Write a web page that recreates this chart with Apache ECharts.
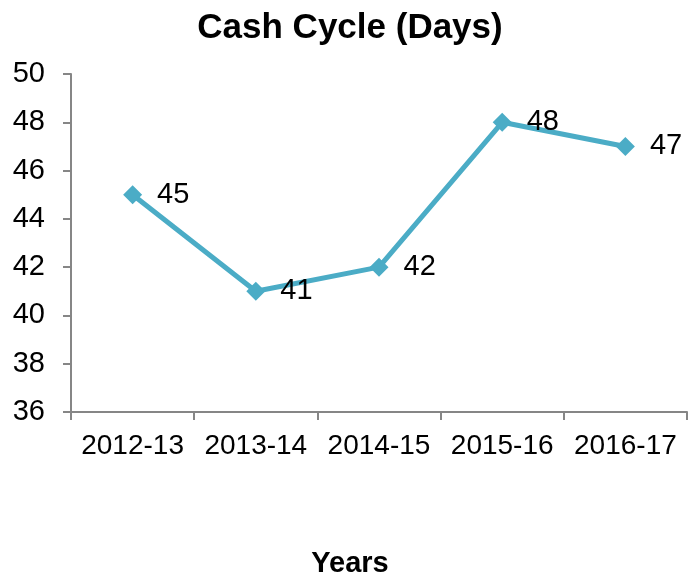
<!DOCTYPE html>
<html>
<head>
<meta charset="utf-8">
<script src="https://cdn.jsdelivr.net/npm/echarts@6/dist/echarts.min.js"></script>
<style>
  html, body { margin: 0; padding: 0; background: #fff; }
  #chart { width: 689px; height: 577px; }
</style>
</head>
<body>
<div id="chart"></div>
<script>
const years = ['2012-13', '2013-14', '2014-15', '2015-16', '2016-17']
const cashCycleDays = [45, 41, 42, 48, 47]
const yMin = 36
const yMax = 50
const yStep = 2

const chart = echarts.init(document.getElementById('chart'))

const axisGray = '#868686'
const font = '"Liberation Sans", Arial, sans-serif'

chart.setOption({
  animation: false,
  textStyle: { fontFamily: font },
  title: [
    {
      text: 'Cash Cycle (Days)',
      left: 345,
      top: 6,
      textAlign: 'center',
      textStyle: { fontSize: 35, fontWeight: 'bold', color: '#000', fontFamily: font },
    },
    {
      text: 'Years',
      left: 345,
      top: 544,
      textAlign: 'center',
      textStyle: { fontSize: 29, fontWeight: 'bold', color: '#000', fontFamily: font },
    },
  ],
  grid: {
    left: 71,
    right: 2,
    top: 74,
    bottom: 165,
  },
  xAxis: {
    type: 'category',
    data: years,
    boundaryGap: true,
    axisLine: { lineStyle: { color: axisGray, width: 2 } },
    axisTick: { show: true, length: 8, interval: 0, lineStyle: { color: axisGray, width: 2 } },
    axisLabel: { color: '#000', fontSize: 28, margin: 20, interval: 0, hideOverlap: false, fontFamily: font },
  },
  yAxis: {
    type: 'value',
    min: yMin,
    max: yMax,
    interval: yStep,
    axisLine: { show: true, lineStyle: { color: axisGray, width: 2 } },
    axisTick: { show: true, length: 8, lineStyle: { color: axisGray, width: 2 } },
    axisLabel: { color: '#000', fontSize: 29, margin: 26, fontFamily: font },
    splitLine: { show: false },
  },
  series: [
    {
      name: 'Cash Cycle',
      type: 'line',
      data: cashCycleDays,
      lineStyle: { color: '#4bacc6', width: 5 },
      itemStyle: { color: '#4bacc6' },
      symbol: 'diamond',
      symbolSize: 19,
      label: {
        show: true,
        position: 'right',
        distance: 15,
        color: '#000',
        fontSize: 29,
        fontFamily: font,
      },
    },
  ],
})
</script>
</body>
</html>
